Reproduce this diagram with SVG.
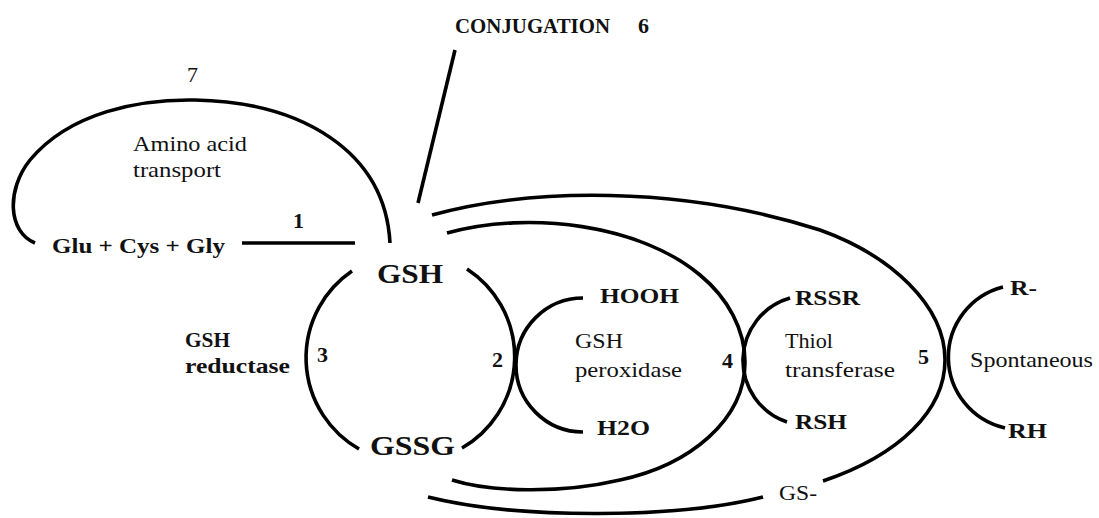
<svg xmlns="http://www.w3.org/2000/svg" width="1099" height="518" viewBox="0 0 1099 518">
<style>
.ln{fill:none;stroke:#000;stroke-width:3.6;stroke-linecap:butt}
.b{font-weight:bold;font-size:22px}
.r{font-weight:normal;font-size:22px}
.big{font-weight:bold;font-size:28px}
</style>
<rect width="1099" height="518" fill="#fff"/>
<g id="connectors">
<path class="ln" d="M455,50 L418,203"/>
<path class="ln" d="M35,243 C8,232 6,190 30,160 C70,112 140,99 195,100 C300,102 385,150 390,243"/>
<path class="ln" d="M242,243 L355,243"/>
<path class="ln" d="M352,271 A105,105 0 0 0 359,449"/>
<path class="ln" d="M467,269 A105,105 0 0 1 462,448"/>
<path class="ln" d="M583,298 A67,67 0 0 0 583,432"/>
<path class="ln" d="M790,298 A65,65 0 0 0 787,422"/>
<path class="ln" d="M1003,287 A72.5,72.5 0 0 0 1005,428"/>
<path class="ln" d="M447,233 C530,210 640,225 700,275 C728,298 745,330 745,362 C745,420 690,465 620,480 C560,494 490,492 452,480"/>
<path class="ln" d="M432,215 C530,188 680,185 820,230 C890,255 945,305 945,360 C945,410 900,455 823,481"/>
<path class="ln" d="M428,497 C520,520 680,518 763,497"/>
</g>
<g font-family="Liberation Serif, Times New Roman, DejaVu Serif, serif" fill="#111">
<g id="conjugation"><text class="b" x="455" y="33" textLength="155" lengthAdjust="spacingAndGlyphs">CONJUGATION</text><text class="b" x="638" y="33">6</text></g>
<g id="label7"><text class="r" x="187" y="82">7</text></g>
<g id="amino-transport"><text class="r" x="133" y="151" textLength="114" lengthAdjust="spacingAndGlyphs">Amino acid</text><text class="r" x="133" y="177" textLength="88" lengthAdjust="spacingAndGlyphs">transport</text></g>
<g id="label1"><text class="b" x="293" y="228">1</text></g>
<g id="glu-cys-gly"><text class="b" x="52" y="253" textLength="173" lengthAdjust="spacingAndGlyphs">Glu + Cys + Gly</text></g>
<g id="gsh"><text class="big" x="377" y="283" textLength="66" lengthAdjust="spacingAndGlyphs">GSH</text></g>
<g id="gssg"><text class="big" x="370" y="455" textLength="85" lengthAdjust="spacingAndGlyphs">GSSG</text></g>
<g id="gsh-reductase"><text class="b" x="185" y="347" textLength="45" lengthAdjust="spacingAndGlyphs">GSH</text><text class="b" x="185" y="373" textLength="105" lengthAdjust="spacingAndGlyphs">reductase</text><text class="b" x="317" y="362">3</text></g>
<g id="label2"><text class="b" x="492" y="367">2</text></g>
<g id="hooh"><text class="b" x="600" y="303" textLength="79" lengthAdjust="spacingAndGlyphs">HOOH</text></g>
<g id="gsh-peroxidase"><text class="r" x="575" y="348" textLength="48" lengthAdjust="spacingAndGlyphs">GSH</text><text class="r" x="575" y="377" textLength="107" lengthAdjust="spacingAndGlyphs">peroxidase</text></g>
<g id="h2o"><text class="b" x="597" y="435" textLength="53" lengthAdjust="spacingAndGlyphs">H2O</text></g>
<g id="label4"><text class="b" x="722" y="368">4</text></g>
<g id="rssr"><text class="b" x="795" y="305" textLength="65" lengthAdjust="spacingAndGlyphs">RSSR</text></g>
<g id="thiol-transferase"><text class="r" x="785" y="348" textLength="48" lengthAdjust="spacingAndGlyphs">Thiol</text><text class="r" x="785" y="377" textLength="110" lengthAdjust="spacingAndGlyphs">transferase</text></g>
<g id="rsh"><text class="b" x="795" y="429" textLength="52" lengthAdjust="spacingAndGlyphs">RSH</text></g>
<g id="label5"><text class="b" x="918" y="364">5</text></g>
<g id="r-minus"><text class="b" x="1010" y="295" textLength="27" lengthAdjust="spacingAndGlyphs">R-</text></g>
<g id="spontaneous"><text class="r" x="970" y="367" textLength="123" lengthAdjust="spacingAndGlyphs">Spontaneous</text></g>
<g id="rh"><text class="b" x="1008" y="438" textLength="39" lengthAdjust="spacingAndGlyphs">RH</text></g>
<g id="gs-minus"><text class="r" x="779" y="500" textLength="38" lengthAdjust="spacingAndGlyphs">GS-</text></g>
</g>
</svg>
